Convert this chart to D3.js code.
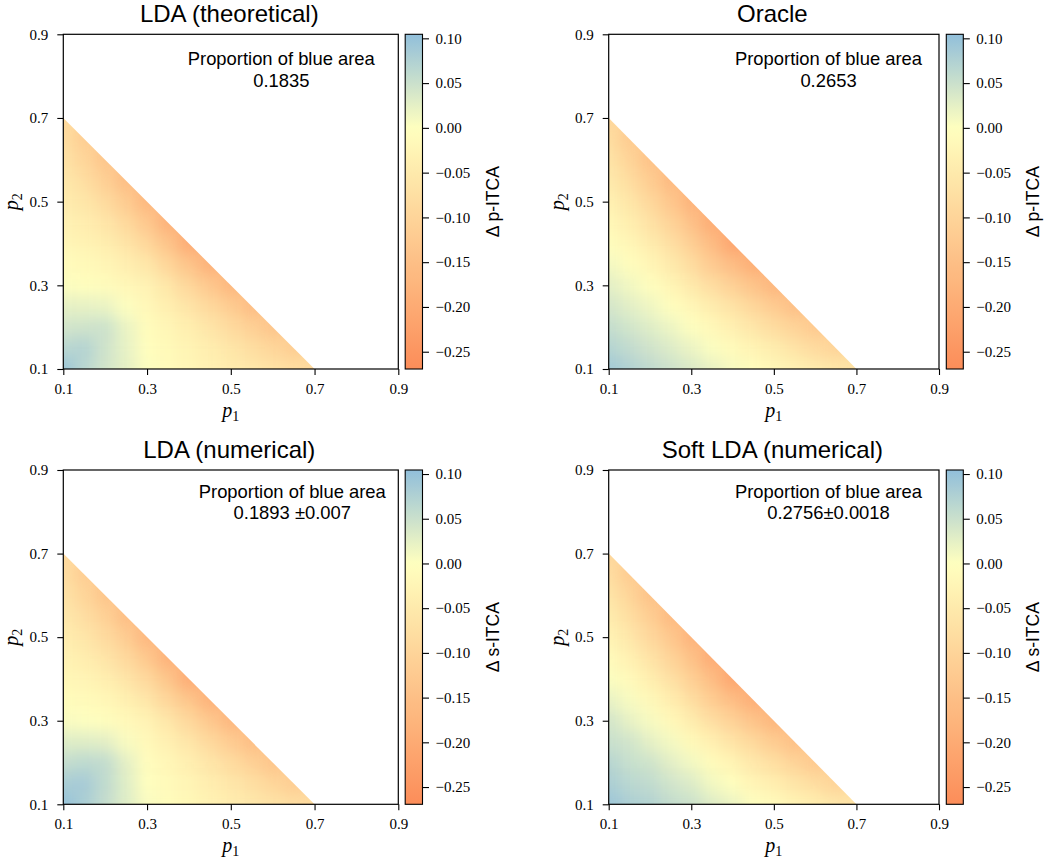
<!DOCTYPE html>
<html><head><meta charset="utf-8">
<script src="https://cdn.jsdelivr.net/npm/d3@7"></script>
<style>body{margin:0;background:#fff}svg{display:block}</style>
</head><body>
<svg id="chart" width="1049" height="865"></svg>
<script>
// ---------------- data ----------------
const gridP = [0.1,0.15,0.2,0.25,0.3,0.35,0.4,0.45,0.5,0.55,0.6,0.65,0.7];
const gridStep = 0.05;
const axisDomain = [0.1, 0.9];
const axisTicks = [0.1, 0.3, 0.5, 0.7, 0.9];
const cbarTicks = [0.10, 0.05, 0.00, -0.05, -0.10, -0.15, -0.20, -0.25];
const colorDomain = [-0.2693, 0, 0.1045];
const colorRange = ["#fc8d59", "#ffffbf", "#91bfdb"];
const titles = ["LDA (theoretical)", "Oracle", "LDA (numerical)", "Soft LDA (numerical)"];
const cbarLabels = ["\u0394 p-ITCA", "\u0394 p-ITCA", "\u0394 s-ITCA", "\u0394 s-ITCA"];
const annTitle = "Proportion of blue area";
const blueProportion = ["0.1835", "0.2653", "0.1893 \u00b10.007", "0.2756\u00b10.0018"];

// rows: p2 = gridP[j]; entries: p1 = gridP[0 .. 12-j]
const ldaTheoretical = [
 [0.095,0.066,0.043,0.024,0.003,-0.009,-0.021,-0.032,-0.044,-0.055,-0.067,-0.078,-0.090],
 [0.066,0.072,0.046,0.023,-0.002,-0.015,-0.028,-0.043,-0.060,-0.078,-0.098,-0.118],
 [0.043,0.046,0.048,0.020,-0.008,-0.023,-0.041,-0.062,-0.085,-0.110,-0.138],
 [0.024,0.023,0.020,0.002,-0.019,-0.039,-0.063,-0.090,-0.121,-0.155],
 [0.003,-0.002,-0.008,-0.019,-0.030,-0.060,-0.094,-0.130,-0.171],
 [-0.009,-0.015,-0.023,-0.039,-0.060,-0.098,-0.139,-0.185],
 [-0.021,-0.028,-0.041,-0.063,-0.094,-0.139,-0.198],
 [-0.032,-0.043,-0.062,-0.090,-0.130,-0.185],
 [-0.044,-0.060,-0.085,-0.121,-0.171],
 [-0.055,-0.078,-0.110,-0.155],
 [-0.067,-0.098,-0.138],
 [-0.078,-0.118],
 [-0.090]
];
const oracle = [
 [0.088,0.073,0.060,0.047,0.034,0.021,0.008,-0.005,-0.018,-0.031,-0.044,-0.057,-0.070],
 [0.071,0.058,0.045,0.032,0.019,0.004,-0.012,-0.029,-0.046,-0.065,-0.084,-0.103],
 [0.056,0.043,0.030,0.017,0.001,-0.017,-0.037,-0.058,-0.081,-0.104,-0.128],
 [0.041,0.028,0.015,-0.002,-0.022,-0.045,-0.069,-0.095,-0.122,-0.151],
 [0.026,0.013,-0.003,-0.024,-0.052,-0.080,-0.109,-0.140,-0.172],
 [0.011,-0.004,-0.023,-0.049,-0.082,-0.122,-0.156,-0.192],
 [-0.004,-0.022,-0.045,-0.075,-0.113,-0.158,-0.212],
 [-0.019,-0.041,-0.068,-0.103,-0.146,-0.196],
 [-0.034,-0.060,-0.093,-0.132,-0.180],
 [-0.049,-0.081,-0.118,-0.163],
 [-0.064,-0.102,-0.144],
 [-0.079,-0.123],
 [-0.094]
];
const ldaNumerical = [
 [0.100,0.080,0.055,0.030,0.006,-0.008,-0.020,-0.031,-0.043,-0.054,-0.066,-0.077,-0.088],
 [0.082,0.085,0.060,0.030,0.001,-0.014,-0.027,-0.042,-0.059,-0.077,-0.097,-0.117],
 [0.055,0.062,0.058,0.026,-0.006,-0.022,-0.040,-0.061,-0.084,-0.109,-0.136],
 [0.030,0.030,0.027,0.006,-0.017,-0.038,-0.062,-0.089,-0.120,-0.153],
 [0.006,0.002,-0.005,-0.016,-0.030,-0.059,-0.093,-0.129,-0.169],
 [-0.007,-0.012,-0.020,-0.037,-0.059,-0.097,-0.138,-0.183],
 [-0.020,-0.026,-0.040,-0.062,-0.093,-0.138,-0.196],
 [-0.031,-0.042,-0.061,-0.089,-0.129,-0.183],
 [-0.043,-0.059,-0.084,-0.120,-0.169],
 [-0.054,-0.077,-0.109,-0.153],
 [-0.066,-0.097,-0.136],
 [-0.077,-0.117],
 [-0.089]
];
const softLda = [
 [0.093,0.078,0.072,0.057,0.049,0.031,0.019,0.001,-0.011,-0.028,-0.041,-0.056,-0.069],
 [0.080,0.066,0.059,0.044,0.033,0.012,-0.003,-0.025,-0.041,-0.064,-0.081,-0.104],
 [0.068,0.053,0.046,0.027,0.012,-0.010,-0.029,-0.056,-0.078,-0.103,-0.127],
 [0.051,0.044,0.025,0.010,-0.015,-0.037,-0.066,-0.092,-0.121,-0.150],
 [0.042,0.023,0.008,-0.017,-0.045,-0.077,-0.106,-0.139,-0.173],
 [0.021,0.007,-0.016,-0.042,-0.079,-0.119,-0.155,-0.191],
 [0.004,-0.013,-0.040,-0.070,-0.112,-0.155,-0.210],
 [-0.011,-0.035,-0.064,-0.101,-0.144,-0.196],
 [-0.028,-0.056,-0.091,-0.130,-0.180],
 [-0.045,-0.079,-0.116,-0.163],
 [-0.062,-0.100,-0.144],
 [-0.077,-0.123],
 [-0.094]
];
const panelValues = [ldaTheoretical, oracle, ldaNumerical, softLda];

// ---------------- layout ----------------
const layout = [
 {x0:63.3, x1:398.3, yT:34.3, yB:369,  cb0:405.2, cb1:422.5, annX:281.3, ann1:65,    ann2:87.3},
 {x0:608.7,x1:939,   yT:34.3, yB:369,  cb0:946.3, cb1:963.3, annX:828.5, ann1:65,    ann2:87.3},
 {x0:63.3, x1:398.3, yT:470,  yB:804.3,cb0:405.2, cb1:422.5, annX:292.3, ann1:497.7, ann2:519.3},
 {x0:608.7,x1:939,   yT:470,  yB:804.3,cb0:946.3, cb1:963.3, annX:828.5, ann1:497.7, ann2:519.3}
];
const SANS = "'Liberation Sans', Arial, Helvetica, sans-serif";
const SERIF = "'Liberation Serif', 'Times New Roman', Times, serif";

const color = d3.scaleLinear().domain(colorDomain).range(colorRange)
  .interpolate(d3.interpolateRgb).clamp(true);

const svg = d3.select("#chart");
const defs = svg.append("defs");

// smoothing filter: normalized gaussian blur of the cell grid
const filt = defs.append("filter").attr("id","smooth")
  .attr("x","-10%").attr("y","-10%").attr("width","120%").attr("height","120%")
  .attr("color-interpolation-filters","sRGB");
filt.append("feGaussianBlur").attr("stdDeviation",7.5);
filt.append("feComponentTransfer").append("feFuncA").attr("type","table").attr("tableValues","1 1");

// colorbar gradient
const vmin = colorDomain[0], vmax = colorDomain[2];
const grad = defs.append("linearGradient").attr("id","cbarGrad")
  .attr("x1",0).attr("y1",1).attr("x2",0).attr("y2",0);
d3.range(0, 41).forEach(k => {
  const t = k/40, v = vmin + t*(vmax-vmin);
  grad.append("stop").attr("offset", t).attr("stop-color", color(v));
});

function styleAxis(sel){
  sel.select(".domain").remove();
  sel.selectAll(".tick line").attr("stroke","#000").attr("stroke-width",1.1);
  sel.selectAll(".tick text").attr("font-family",SERIF).attr("font-size",15).attr("fill","#000");
}

const pMin = gridP[0], pMax = gridP[gridP.length-1];
const half = gridStep/2;

panelValues.forEach((vals, k) => {
  const L = layout[k];
  const x = d3.scaleLinear().domain(axisDomain).range([L.x0, L.x1]);
  const y = d3.scaleLinear().domain(axisDomain).range([L.yB, L.yT]);
  const g = svg.append("g");

  // triangle clip (p1 + p2 <= pMin + pMax)
  const clipId = "clip" + k;
  defs.append("clipPath").attr("id", clipId).append("path")
    .attr("d", d3.line()([[x(pMin),y(pMin)],[x(pMin),y(pMax)],[x(pMax),y(pMin)]]) + "Z");

  const cells = [];
  vals.forEach((row, j) => row.forEach((v, i) => cells.push({p1: gridP[i], p2: gridP[j], v})));

  g.append("g").attr("clip-path", `url(#${clipId})`)
    .append("g").attr("filter","url(#smooth)")
    .selectAll("rect").data(cells).join("rect")
    .attr("x", d => x(d.p1 - half))
    .attr("y", d => y(d.p2 + half))
    .attr("width", d => x(d.p1 + half) - x(d.p1 - half))
    .attr("height", d => y(d.p2 - half) - y(d.p2 + half))
    .attr("fill", d => color(d.v));

  // spines
  g.append("rect").attr("x", L.x0).attr("y", L.yT)
    .attr("width", L.x1 - L.x0).attr("height", L.yB - L.yT)
    .attr("fill","none").attr("stroke","#000").attr("stroke-width",1.2);

  // axes
  g.append("g").attr("transform",`translate(0,${L.yB})`)
    .call(d3.axisBottom(x).tickValues(axisTicks).tickFormat(d3.format(".1f"))
      .tickSize(6).tickSizeOuter(0).tickPadding(8.3))
    .call(styleAxis);
  g.append("g").attr("transform",`translate(${L.x0},0)`)
    .call(d3.axisLeft(y).tickValues(axisTicks).tickFormat(d3.format(".1f"))
      .tickSize(6).tickSizeOuter(0).tickPadding(9))
    .call(styleAxis);

  // axis labels
  const xl = g.append("text").attr("x",(L.x0+L.x1)/2).attr("y",L.yB+48)
    .attr("text-anchor","middle").attr("font-family",SERIF).attr("font-size",20).attr("fill","#000");
  xl.append("tspan").attr("font-style","italic").text("p");
  xl.append("tspan").attr("font-size",14).attr("dy",4).text("1");
  const yl = g.append("text")
    .attr("transform",`translate(${L.x0-45},${(L.yT+L.yB)/2}) rotate(-90)`)
    .attr("text-anchor","middle").attr("font-family",SERIF).attr("font-size",20).attr("fill","#000");
  yl.append("tspan").attr("font-style","italic").text("p");
  yl.append("tspan").attr("font-size",14).attr("dy",4).text("2");

  // title
  g.append("text").attr("x",(L.x0+L.x1)/2 - 1.5).attr("y",L.yT-12.4)
    .attr("text-anchor","middle").attr("font-family",SANS).attr("font-size",24).attr("fill","#000")
    .text(titles[k]);

  // annotation
  const ann = g.append("text").attr("text-anchor","middle").attr("font-family",SANS)
    .attr("font-size",18.4).attr("fill","#000");
  ann.append("tspan").attr("x",L.annX).attr("y",L.ann1).text(annTitle);
  ann.append("tspan").attr("x",L.annX).attr("y",L.ann2).text(blueProportion[k]);

  // colorbar
  const cy = d3.scaleLinear().domain([vmin, vmax]).range([L.yB, L.yT]);
  g.append("rect").attr("x",L.cb0).attr("y",L.yT).attr("width",L.cb1-L.cb0).attr("height",L.yB-L.yT)
    .attr("fill","url(#cbarGrad)").attr("stroke","#000").attr("stroke-width",1.1);
  g.append("g").attr("transform",`translate(${L.cb1},0)`)
    .call(d3.axisRight(cy).tickValues(cbarTicks).tickFormat(d3.format(".2f"))
      .tickSize(6.5).tickSizeOuter(0).tickPadding(6.5))
    .call(styleAxis);
  g.append("text")
    .attr("transform",`translate(${L.cb1+76},${(L.yT+L.yB)/2}) rotate(-90)`)
    .attr("text-anchor","middle").attr("font-family",SANS).attr("font-size",17.5).attr("fill","#000")
    .text(cbarLabels[k]);
});
</script>
</body></html>
